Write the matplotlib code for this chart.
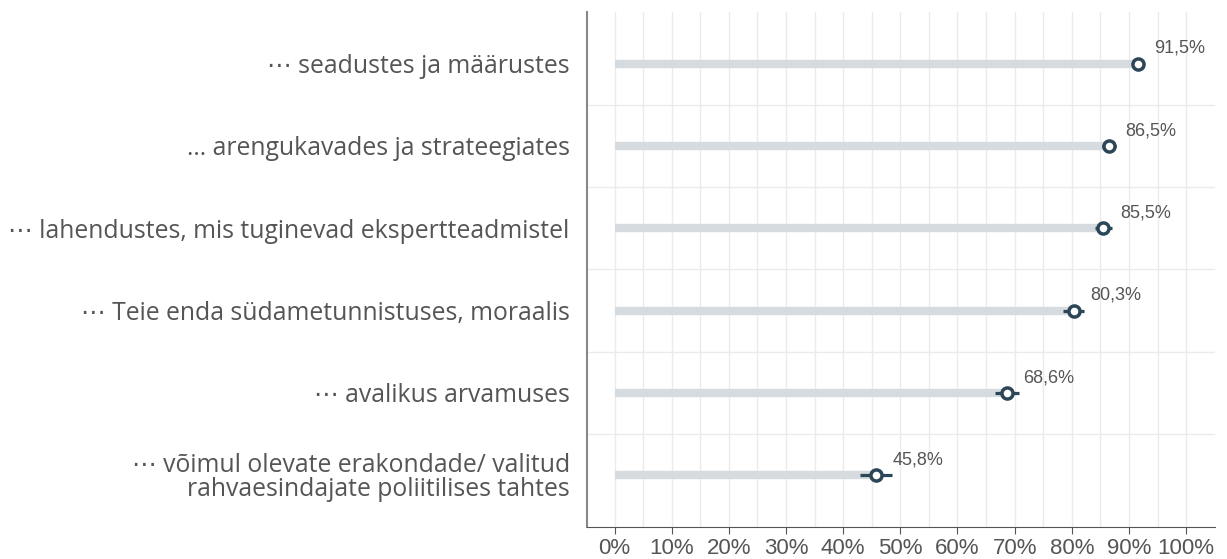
import matplotlib
matplotlib.use("Agg")
import matplotlib.pyplot as plt
import numpy as np

labels = [
    "\u22ef seadustes ja määrustes",
    "\u2026 arengukavades ja strateegiates",
    "\u22ef lahendustes, mis tuginevad ekspertteadmistel",
    "\u22ef Teie enda südametunnistuses, moraalis",
    "\u22ef avalikus arvamuses",
    "\u22ef võimul olevate erakondade/ valitud\nrahvaesindajate poliitilises tahtes",
]
values = [91.5, 86.5, 85.5, 80.3, 68.6, 45.8]
value_text = ["91,5%", "86,5%", "85,5%", "80,3%", "68,6%", "45,8%"]
errors = [0.7, 1.2, 1.5, 1.9, 2.1, 2.8]
xticks = list(range(0, 101, 10))

dark = "#2b4657"
bar_col = "#d5dbde"
txt = "#555555"

fig = plt.figure(figsize=(12.27, 5.59), dpi=100)
ax = fig.add_axes([0.478, 0.057, 0.512, 0.922])

y = np.arange(len(values))
ax.set_ylim(len(values) - 0.37, -0.63)
ax.set_xlim(-4.9, 105)

# grid
for gx in np.arange(0, 105, 5):
    ax.axvline(gx, color="#ebebeb", lw=1, zorder=0)
for gy in np.arange(0.5, len(values) - 0.5, 1):
    ax.axhline(gy, color="#ebebeb", lw=1, zorder=0)

ax.hlines(y, 0, values, color=bar_col, lw=6, zorder=1)
ax.errorbar(values, y, xerr=errors, fmt="none", ecolor=dark, elinewidth=2.3, capsize=0, zorder=2)
ax.plot(values, y, "o", ms=8, mfc="white", mec=dark, mew=2.5, zorder=3)

for v, yy, t in zip(values, y, value_text):
    ax.annotate(t, (v, yy), xytext=(12, 11), textcoords="offset points", va="center",
                fontsize=13, color=txt, family=["Liberation Sans", "DejaVu Sans"])

ax.set_yticks(y)
ax.set_yticklabels(labels, fontsize=17.8, color=txt, family=["Open Sans", "DejaVu Sans"],
                   linespacing=0.95)
ax.tick_params(axis="y", length=0, pad=12)

ax.set_xticks(xticks)
ax.set_xticklabels([f"{t}%" for t in xticks], fontsize=16, color=txt,
                   family=["Liberation Sans", "DejaVu Sans"])
ax.tick_params(axis="x", length=5, color="#555555", pad=3)

for s in ["top", "right"]:
    ax.spines[s].set_visible(False)
ax.spines["left"].set_color("#888888")
ax.spines["left"].set_linewidth(1.5)
ax.spines["bottom"].set_color("#555555")

fig.savefig("out.png", dpi=100)
